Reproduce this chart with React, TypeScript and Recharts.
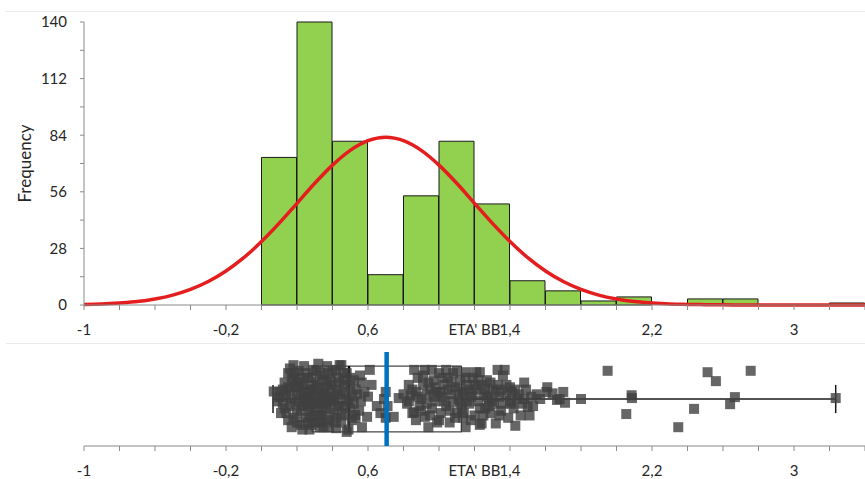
import React from 'react';
import { ComposedChart, Bar, Line, Scatter, XAxis, YAxis } from 'recharts';

// ---------- Histogram ----------
const binStarts = [0, 0.2, 0.4, 0.6, 0.8, 1.0, 1.2, 1.4, 1.6, 1.8, 2.0, 2.2, 2.4, 2.6, 2.8, 3.0, 3.2];
const binCounts = [73, 140, 81, 15, 54, 81, 50, 12, 7, 2, 4, 0, 3, 3, 0, 0, 1];
const binWidth = 0.2;

// ---------- Fitted normal curve ----------
const curveX = [-1.0, -0.9, -0.8, -0.7, -0.6, -0.5, -0.4, -0.3, -0.2, -0.1, 0.0, 0.1, 0.2, 0.3, 0.4, 0.5, 0.6, 0.7, 0.8, 0.9, 1.0, 1.1, 1.2, 1.3, 1.4, 1.5, 1.6, 1.7, 1.8, 1.9, 2.0, 2.1, 2.2, 2.3, 2.4, 2.5, 2.6, 2.7, 2.8, 2.9, 3.0, 3.1, 3.2, 3.3, 3.4];
const curveY = [0.3, 0.5, 1.0, 1.7, 3.0, 4.9, 7.7, 11.6, 16.8, 23.4, 31.4, 40.5, 50.3, 60.2, 69.2, 76.5, 81.3, 83.0, 81.3, 76.5, 69.2, 60.2, 50.3, 40.5, 31.4, 23.4, 16.8, 11.6, 7.7, 4.9, 3.0, 1.7, 1.0, 0.5, 0.3, 0.15, 0.07, 0.03, 0.01, 0, 0, 0, 0, 0, 0];

// ---------- Axis ticks ----------
const xDomain: [number, number] = [-1, 3.4];
const xTicks = [-1, -0.8, -0.6, -0.4, -0.2, 0, 0.2, 0.4, 0.6, 0.8, 1, 1.2, 1.4, 1.6, 1.8, 2, 2.2, 2.4, 2.6, 2.8, 3, 3.2, 3.4];
const xLabelTicks = [-1, -0.2, 0.6, 1.4, 2.2, 3];
const yTicks = [0, 14, 28, 42, 56, 70, 84, 98, 112, 126, 140];
const yLabelTicks = [0, 28, 56, 84, 112, 140];

// ---------- Box plot statistics ----------
const boxMin = 0.065;
const boxQ1 = 0.285;
const boxMedian = 0.493;
const boxQ3 = 1.127;
const boxMax = 3.235;
const boxMean = 0.705;
const boxHalf = 0.7;
const capHalf = 0.3;

// ---------- Jittered observations [value, jitter] ----------
const stripPoints: [number, number][] = [
  [0.069, 0.16], [0.10, 0.15], [0.10, 0.04], [0.09, -0.05], [0.11, -0.3], [0.12, 0.2],
  [0.13, 0.35], [0.13, -0.2], [0.14, 0.05], [0.15, 0.55], [0.15, -0.45], [0.16, 0.2],
  [0.17, -0.6], [0.17, 0.0], [0.18, 0.72], [0.18, 0.4], [0.19, -0.1], [0.19, 0.25],
  [0.2, 0.1], [0.2, -0.3], [0.21, 0.6], [0.21, 0.25], [0.22, -0.55], [0.22, 0.45],
  [0.23, 0.3], [0.23, -0.15], [0.24, 0.7], [0.24, -0.05], [0.25, 0.0], [0.25, -0.4],
  [0.26, 0.45], [0.26, 0.15], [0.26, -0.15], [0.27, -0.65], [0.27, -0.35], [0.28, 0.2],
  [0.28, -0.25], [0.29, 0.62], [0.29, 0.3], [0.3, 0.05], [0.3, -0.5], [0.31, 0.35],
  [0.31, -0.2], [0.31, 0.1], [0.32, -0.1], [0.32, 0.75], [0.33, -0.35], [0.33, 0.55],
  [0.33, -0.6], [0.34, 0.15], [0.34, -0.5], [0.35, 0.5], [0.35, -0.6], [0.36, 0.25],
  [0.36, -0.2], [0.36, 0.05], [0.37, 0.7], [0.37, -0.1], [0.38, 0.0], [0.38, -0.45],
  [0.39, 0.4], [0.39, 0.2], [0.4, -0.05], [0.4, 0.6], [0.41, -0.3], [0.42, 0.2],
  [0.42, -0.62], [0.42, 0.62], [0.43, 0.45], [0.44, 0.72], [0.44, -0.15], [0.45, 0.1],
  [0.45, 0.72], [0.45, -0.5], [0.46, 0.3], [0.47, -0.35], [0.48, 0.55], [0.48, 0.0],
  [0.48, -0.7], [0.49, -0.65], [0.5, 0.25], [0.5, -0.2], [0.52, 0.4], [0.53, -0.4],
  [0.54, 0.1], [0.55, -0.25], [0.555, 0.5], [0.565, 0.35], [0.56, -0.05], [0.527, -0.34],
  [0.566, -0.6], [0.595, -0.38], [0.58, 0.15], [0.6, 0.05], [0.61, 0.62], [0.62, 0.3],
  [0.14, -0.3], [0.15, 0.25], [0.16, -0.15], [0.17, 0.45], [0.18, -0.4], [0.19, 0.55],
  [0.2, -0.5], [0.21, -0.05], [0.22, 0.1], [0.23, -0.65], [0.24, 0.35], [0.25, 0.55],
  [0.26, -0.5], [0.27, 0.05], [0.28, 0.45], [0.29, -0.1], [0.3, 0.2], [0.3, -0.35],
  [0.31, 0.6], [0.32, 0.25], [0.33, 0.0], [0.34, 0.4], [0.34, -0.25], [0.35, 0.1],
  [0.36, -0.4], [0.37, 0.35], [0.38, 0.55], [0.38, -0.6], [0.39, -0.2], [0.4, 0.3],
  [0.41, 0.0], [0.41, -0.5], [0.43, -0.1], [0.43, 0.1], [0.44, 0.35], [0.46, -0.15],
  [0.46, 0.55], [0.47, 0.15], [0.49, -0.05], [0.51, 0.05], [0.5, 0.45], [0.51, -0.45],
  [0.53, 0.2], [0.52, -0.1], [0.13, 0.1], [0.12, -0.1], [0.16, 0.65], [0.2, 0.35],
  [0.22, -0.25], [0.27, -0.1], [0.24, 0.15], [0.28, -0.55], [0.32, -0.45], [0.35, -0.05],
  [0.39, 0.05], [0.42, -0.4], [0.45, -0.3], [0.47, 0.4],
  [0.65, -0.15], [0.67, -0.3], [0.70, 0.15], [0.71, -0.15], [0.70, -0.4], [0.745, -0.38],
  [0.773, 0.02], [0.69, 0.0],
  [0.80, 0.1], [0.82, -0.1], [0.83, 0.3], [0.84, 0.08], [0.85, -0.3], [0.86, 0.62],
  [0.86, -0.28], [0.87, 0.15], [0.88, 0.45], [0.89, -0.15], [0.9, 0.0], [0.91, 0.3],
  [0.92, 0.62], [0.92, -0.38], [0.93, 0.1], [0.94, -0.6], [0.95, 0.2], [0.96, 0.62],
  [0.96, -0.2], [0.97, 0.4], [0.98, -0.05], [0.99, 0.15], [1.0, 0.55], [1.0, -0.45],
  [1.01, -0.3], [1.02, 0.05], [1.03, 0.3], [1.04, -0.15], [1.05, 0.45], [1.06, -0.5],
  [1.07, 0.1], [1.08, -0.05], [1.09, 0.25], [1.1, 0.6], [1.1, -0.3], [1.11, 0.0],
  [1.12, 0.4], [1.13, -0.2], [1.135, -0.4], [1.14, 0.15], [1.15, -0.6], [1.155, 0.57],
  [1.16, 0.3], [1.17, -0.1], [1.18, 0.05], [1.19, 0.45], [1.2, -0.35], [1.21, 0.57],
  [1.21, 0.2], [1.22, -0.05], [1.23, 0.57], [1.23, -0.55], [1.24, 0.3], [1.24, -0.52],
  [1.25, 0.1], [1.26, -0.2], [1.27, 0.4], [1.28, 0.0], [1.29, -0.3], [1.3, 0.2],
  [1.31, -0.1], [1.32, -0.52], [1.33, 0.62], [1.33, 0.3], [1.34, 0.05], [1.35, -0.25],
  [1.36, 0.5], [1.37, 0.62], [1.38, 0.1], [1.39, -0.4], [1.4, 0.25], [1.41, -0.1],
  [1.42, -0.2], [1.43, -0.57], [1.43, 0.2], [1.44, 0.0], [1.46, -0.35], [1.48, 0.35],
  [1.48, 0.0], [1.50, -0.17], [1.51, -0.35], [1.52, 0.05], [1.55, 0.1],
  [0.83, -0.05], [0.85, 0.2], [0.87, -0.45], [0.88, 0.05], [0.9, -0.25], [0.91, 0.5],
  [0.93, -0.1], [0.94, 0.35], [0.95, -0.35], [0.97, 0.05], [0.98, 0.25], [0.99, -0.5],
  [1.01, 0.15], [1.02, 0.45], [1.03, -0.05], [1.04, 0.62], [1.05, 0.2], [1.06, -0.25],
  [1.07, 0.35], [1.08, 0.55], [1.09, -0.4], [1.11, 0.2], [1.12, -0.1], [1.13, 0.1],
  [1.14, -0.3], [1.15, 0.45], [1.16, -0.05], [1.17, 0.2], [1.18, -0.45], [1.19, 0.1],
  [1.2, 0.3], [1.22, 0.4], [1.23, -0.2], [1.25, -0.35], [1.26, 0.2], [1.27, 0.05],
  [1.28, -0.15], [1.29, 0.35], [1.3, -0.05], [1.32, 0.15], [1.34, -0.35], [1.35, 0.2],
  [1.36, -0.1], [1.38, 0.3], [1.4, -0.05], [1.41, 0.15], [1.45, 0.1], [1.47, -0.1],
  [1.49, 0.2], [1.53, -0.15],
  [1.57, 0.0], [1.605, 0.15], [1.61, 0.25], [1.64, 0.12], [1.665, -0.02], [1.70, 0.15],
  [1.71, -0.08], [1.68, 0.0], [1.80, 0.0], [1.95, 0.6], [2.055, -0.32], [2.085, 0.08],
  [2.087, 0.02], [2.348, -0.6], [2.437, -0.21], [2.513, 0.57], [2.56, 0.38], [2.64, -0.11],
  [2.667, 0.04], [2.756, 0.6], [3.235, 0.02],
];

// ---------- Derived tables ----------
const binData = binStarts.map((s, i) => ({ x: s + binWidth / 2, count: binCounts[i] }));
const curveData = curveX.map((x, i) => ({ x, freq: curveY[i] }));
const stripData = stripPoints.map(([x, y]) => ({ x, y }));
const boxRect = [
  { x: boxQ1, y: -boxHalf }, { x: boxQ3, y: -boxHalf }, { x: boxQ3, y: boxHalf },
  { x: boxQ1, y: boxHalf }, { x: boxQ1, y: -boxHalf },
];
const whiskerLeft = [{ x: boxMin, y: 0 }, { x: boxQ1, y: 0 }];
const whiskerRight = [{ x: boxQ3, y: 0 }, { x: boxMax, y: 0 }];
const capLeft = [{ x: boxMin, y: -capHalf }, { x: boxMin, y: capHalf }];
const capRight = [{ x: boxMax, y: -capHalf }, { x: boxMax, y: capHalf }];
const medianLine = [{ x: boxMedian, y: -boxHalf }, { x: boxMedian, y: boxHalf }];
const meanLine = [{ x: boxMean, y: -1 }, { x: boxMean, y: 1 }];

// ---------- Layout ----------
const CHART_W = 865;
const PLOT_LEFT = 84;

const FONT = 'Lato, "Liberation Sans", sans-serif';
const TEXT = '#262626';
const AXIS = '#8a8a8a';

const fmtX = (v: number) =>
  xLabelTicks.some((t) => Math.abs(t - v) < 1e-6) ? String(v).replace('.', ',') : '';
const fmtY = (v: number) => (yLabelTicks.includes(v) ? String(v) : '');

const Square = (props: any) => {
  const { cx, cy } = props;
  if (cx == null || cy == null) return null;
  return <rect x={cx - 5} y={cy - 5} width={10} height={10} fill="#404040" fillOpacity={0.8} />;
};

const tickStyle = { fontSize: 15, fill: TEXT, fontFamily: FONT };

export default function App() {
  return (
    <div style={{ position: 'absolute', left: 0, top: 0, width: 865, height: 479, background: '#fff', overflow: 'hidden', fontFamily: FONT }}>
      <div style={{ position: 'absolute', left: 6, top: 11, width: 870, height: 0, borderTop: '1px solid #ebebeb' }} />
      <div style={{ position: 'absolute', left: 6, top: 343, width: 870, height: 0, borderTop: '1px solid #ebebeb' }} />

      <div style={{ position: 'absolute', left: 0, top: 0 }}>
        <ComposedChart width={CHART_W} height={340} data={binData} margin={{ top: 22, right: 0, bottom: 0, left: 0 }} barCategoryGap={0} barGap={0}>
          <XAxis
            dataKey="x"
            type="number"
            domain={xDomain}
            allowDataOverflow
            ticks={xTicks}
            interval={0}
            tickFormatter={fmtX}
            height={35}
            tickSize={5}
            tickMargin={14}
            tick={tickStyle}
            axisLine={{ stroke: AXIS }}
            tickLine={{ stroke: AXIS }}
            label={{ value: "ETA' BB", position: 'insideTop', offset: 19, style: { fontSize: 15, fill: TEXT, fontFamily: FONT } }}
          />
          <XAxis xAxisId="curve" dataKey="x" type="number" domain={xDomain} allowDataOverflow hide />
          <YAxis
            type="number"
            domain={[0, 140]}
            ticks={yTicks}
            interval={0}
            tickFormatter={fmtY}
            width={PLOT_LEFT}
            tickSize={4}
            tickMargin={13}
            tick={tickStyle}
            axisLine={{ stroke: AXIS }}
            tickLine={{ stroke: AXIS }}
            label={{ value: 'Frequency', angle: -90, position: 'insideLeft', offset: 25, style: { textAnchor: 'middle', fontSize: 17, fill: TEXT, fontFamily: FONT } }}
          />
          <Bar dataKey="count" fill="#92D050" stroke="#1a1a1a" strokeWidth={1} isAnimationActive={false} />
          <Line xAxisId="curve" data={curveData} dataKey="freq" type="monotone" stroke="#e41e1e" strokeWidth={3.5} dot={false} activeDot={false} isAnimationActive={false} />
        </ComposedChart>
      </div>

      <div style={{ position: 'absolute', left: 0, top: 343 }}>
        <ComposedChart width={CHART_W} height={136} margin={{ top: 9, right: 0, bottom: 0, left: PLOT_LEFT }}>
          <XAxis
            dataKey="x"
            type="number"
            domain={xDomain}
            allowDataOverflow
            ticks={xTicks}
            interval={0}
            tickFormatter={fmtX}
            height={33}
            tickSize={5}
            tickMargin={14}
            tick={tickStyle}
            axisLine={{ stroke: AXIS }}
            tickLine={{ stroke: AXIS }}
            label={{ value: "ETA' BB", position: 'insideTop', offset: 19, style: { fontSize: 15, fill: TEXT, fontFamily: FONT } }}
          />
          <YAxis dataKey="y" type="number" domain={[-1, 1]} hide allowDataOverflow />
          <Line data={boxRect} dataKey="y" type="linear" stroke="#1a1a1a" strokeWidth={1} dot={false} activeDot={false} isAnimationActive={false} />
          <Line data={medianLine} dataKey="y" type="linear" stroke="#000" strokeWidth={2.5} dot={false} activeDot={false} isAnimationActive={false} />
          <Line data={whiskerLeft} dataKey="y" type="linear" stroke="#1a1a1a" strokeWidth={1.5} dot={false} activeDot={false} isAnimationActive={false} />
          <Line data={whiskerRight} dataKey="y" type="linear" stroke="#1a1a1a" strokeWidth={1.5} dot={false} activeDot={false} isAnimationActive={false} />
          <Line data={capLeft} dataKey="y" type="linear" stroke="#1a1a1a" strokeWidth={1.5} dot={false} activeDot={false} isAnimationActive={false} />
          <Line data={capRight} dataKey="y" type="linear" stroke="#1a1a1a" strokeWidth={1.5} dot={false} activeDot={false} isAnimationActive={false} />
          <Scatter data={stripData} dataKey="y" shape={Square} isAnimationActive={false} />
          <Line data={meanLine} dataKey="y" type="linear" stroke="#0070C0" strokeWidth={4.5} strokeLinecap="round" dot={false} activeDot={false} isAnimationActive={false} {...({ zIndex: 700 } as any)} />
        </ComposedChart>
      </div>
    </div>
  );
}
